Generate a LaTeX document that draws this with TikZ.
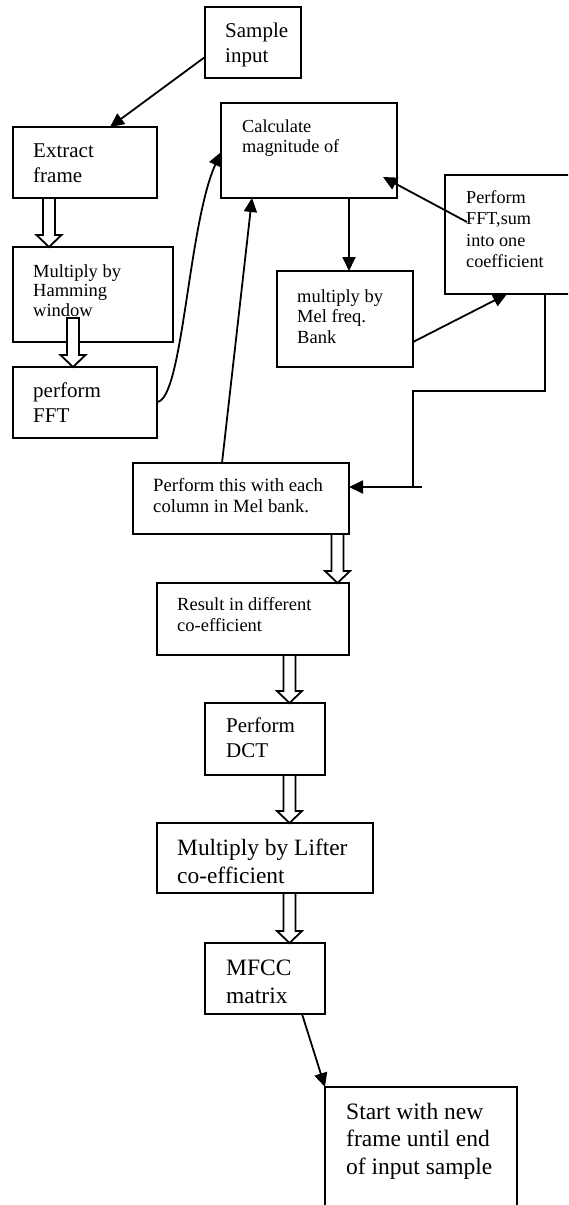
\documentclass[tikz,border=0pt]{standalone}
\usepackage{fontspec}
\setmainfont{Liberation Serif}
\usetikzlibrary{arrows.meta,calc}
\tikzset{
 box/.style={draw, line width=2pt, rectangle, inner sep=0pt, outer sep=0pt, anchor=north west},
 txt/.style={inner sep=0pt, anchor=north west, align=left},
 conn/.style={line width=1.8pt, -{Triangle[length=14pt,width=13pt]}},
 harrow/.style={line width=1.8pt, fill=white, line join=miter},
}
\newcommand{\myfs}[2]{\fontsize{#1pt}{#2pt}\selectfont}
\newcommand{\hollowarr}[2]{\draw[harrow] let \p1=#1, \p2=#2 in (\x1-6pt,\y1) -- (\x1-6pt,\y2+12pt) -- (\x1-12.5pt,\y2+12pt) -- (\x1,\y2) -- (\x1+12.5pt,\y2+12pt) -- (\x1+6pt,\y2+12pt) -- (\x1+6pt,\y1) -- cycle;}
\begin{document}
\begin{tikzpicture}[x=1pt,y=-1pt]
\useasboundingbox (0,0) rectangle (568,1205);
\clip (0,0) rectangle (568,1205);
% boxes
\node[box, minimum width=96pt, minimum height=71pt] (sample) at (205,7) {};
\node[txt, font=\myfs{21}{24.5}] (sampleT) at (225,20.2) {\strut Sample\\\strut input};
\node[box, minimum width=144pt, minimum height=71pt] (extract) at (13,127) {};
\node[txt, font=\myfs{21}{25}] (extractT) at (33,139.5) {\strut Extract\\\strut frame};
\node[box, minimum width=160pt, minimum height=95pt] (hamming) at (13,247) {};
\node[txt, font=\myfs{18.5}{19.5}] (hammingT) at (33,263.4) {\strut Multiply by\\\strut Hamming\\\strut window};
\node[box, minimum width=144pt, minimum height=71pt] (perffft) at (13,367) {};
\node[txt, font=\myfs{21}{25}] (perffftT) at (33,379.5) {\strut perform\\\strut FFT};
\node[box, minimum width=176pt, minimum height=95pt] (calc) at (221,103) {};
\node[txt, font=\myfs{18.3}{20}] (calcT) at (242,118) {\strut Calculate\\\strut magnitude of};
\node[box, minimum width=136pt, minimum height=96pt] (mel) at (277,271) {};
\node[txt, font=\myfs{18.5}{20.5}] (melT) at (297,287.5) {\strut multiply by\\\strut Mel freq.\\\strut Bank};
\node[box, minimum width=135pt, minimum height=119pt] (fftsum) at (445,175) {};
\node[txt, font=\myfs{18.2}{21.3}] (fftsumT) at (466,188.4) {\strut Perform\\\strut FFT,sum\\\strut into one\\\strut coefficient};
\node[box, minimum width=216pt, minimum height=71pt] (each) at (133,463) {};
\node[txt, font=\myfs{18.7}{21.7}] (eachT) at (153,475.8) {\strut Perform this with each\\\strut column in Mel bank.};
\node[box, minimum width=192pt, minimum height=72pt] (result) at (157,583) {};
\node[txt, font=\myfs{18.5}{21}] (resultT) at (177,596) {\strut Result in different\\\strut co-efficient};
\node[box, minimum width=120pt, minimum height=72pt] (dct) at (205,703) {};
\node[txt, font=\myfs{21}{25}] (dctT) at (226,715.2) {\strut Perform\\\strut DCT};
\node[box, minimum width=216pt, minimum height=70pt] (lifter) at (157,823) {};
\node[txt, font=\myfs{23.4}{28}] (lifterT) at (177,835.4) {\strut Multiply by Lifter\\\strut co-efficient};
\node[box, minimum width=120pt, minimum height=71pt] (mfcc) at (205,943) {};
\node[txt, font=\myfs{23.5}{27.5}] (mfccT) at (226,956.5) {\strut MFCC\\\strut matrix};
\node[box, minimum width=192pt, minimum height=133pt] (start) at (325,1087) {};
\node[txt, font=\myfs{23.5}{27.5}] (startT) at (346,1099.8) {\strut Start with new\\\strut frame until end\\\strut of input sample};
% connectors
\draw[conn] (sample.west |- 0,57) -- (extract.north -| 110,0);
\draw[conn] (perffft.east |- 0,402) .. controls (183,400) and (188,225) .. (calc.west |- 0,152);
\draw[conn] (calc.south -| 349,0) -- (mel.north -| 349,0);
\draw[conn] ([xshift=22pt]fftsum.west |- 0,222) -- ([xshift=-14pt]calc.east |- 0,177);
\draw[conn] (mel.east |- 0,342) -- (fftsum.south -| 507,0);
\draw[line width=1.8pt] (fftsum.south -| 545,0) -- (545,391) -- (413,391) -- (413,487);
\coordinate (jn) at (422,487);
\draw[conn] (jn) -- (each.east |- jn);
\draw[conn] (each.north -| 222,0) -- (calc.south -| 252,0);
\draw[conn] (mfcc.south -| 302,0) -- (start.north west);
% hollow arrows
\hollowarr{(extract.south -| 49,0)}{(hamming.north -| 49,0)}
\hollowarr{(73,318)}{(perffft.north -| 73,0)}
\hollowarr{(each.south -| 337.5,0)}{(result.north -| 337.5,0)}
\hollowarr{(result.south -| 289.5,0)}{(dct.north -| 289.5,0)}
\hollowarr{(dct.south -| 289.5,0)}{(lifter.north -| 289.5,0)}
\hollowarr{(lifter.south -| 289.5,0)}{(mfcc.north -| 289.5,0)}
\end{tikzpicture}
\end{document}
